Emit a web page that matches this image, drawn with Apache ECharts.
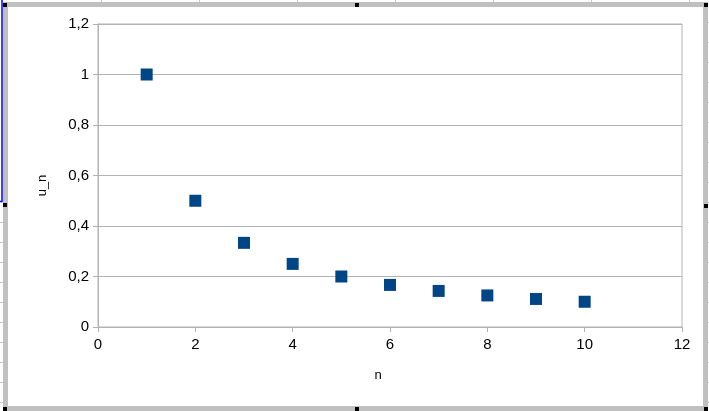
<!DOCTYPE html>
<html>
<head>
<meta charset="utf-8">
<script src="https://cdn.jsdelivr.net/npm/echarts@6/dist/echarts.min.js"></script>
<style>
html,body{margin:0;padding:0;background:#fff;}
#c{width:709px;height:411px;}
</style>
</head>
<body>
<div id="c"></div>
<script>
const nValues = [1, 2, 3, 4, 5, 6, 7, 8, 9, 10];
const unValues = [1, 0.5, 0.3333, 0.25, 0.2, 0.1667, 0.1429, 0.125, 0.1111, 0.1];
const xAxisTitle = 'n';
const yAxisTitle = 'u_n';

const chart = echarts.init(document.getElementById('c'), null, {renderer: 'canvas'});
const font = 'Liberation Sans, Arial, sans-serif';
const lineCol = '#b3b3b3';

const deco = [];
// spreadsheet column separators at top
[101, 199, 297, 395, 493, 591, 689].forEach(x => deco.push({type:'line', silent:true, shape:{x1:x+0.5,y1:0,x2:x+0.5,y2:2}, style:{stroke:'#c8c8c8', lineWidth:1}}));
// spreadsheet row ticks at sides
for (let y = 222; y < 411; y += 20) deco.push({type:'line', silent:true, shape:{x1:0,y1:y+0.5,x2:3,y2:y+0.5}, style:{stroke:'#c8c8c8', lineWidth:1}});
for (let y = 22; y < 411; y += 20) deco.push({type:'line', silent:true, shape:{x1:708,y1:y+0.5,x2:709,y2:y+0.5}, style:{stroke:'#c8c8c8', lineWidth:1}});
// blue cell selection on the left
deco.push({type:'polyline', silent:true, shape:{points:[[2,0],[2,201.5],[0,201.5]]}, style:{stroke:'#0000ff', lineWidth:1.5, fill:null}});
// gray frame
deco.push({type:'rect', silent:true, shape:{x:5.5, y:4.5, width:700, height:404}, style:{stroke:'#c0c0c0', lineWidth:5, fill:null}});
// handles
[[3,3],[355,3],[704,3],[3,203],[704,204],[3,407],[355,407],[704,407]].forEach(p => deco.push({type:'rect', silent:true, shape:{x:p[0], y:p[1], width:4, height:4}, style:{fill:'#000'}}));

chart.setOption({
  backgroundColor: '#ffffff',
  animation: false,
  graphic: deco,
  grid: {left: 98, right: 27, top: 24, bottom: 84, show: true, borderColor: lineCol, borderWidth: 1, backgroundColor: 'transparent'},
  xAxis: {
    type: 'value', min: 0, max: 12, interval: 2,
    name: xAxisTitle, nameLocation: 'middle', nameGap: 42,
    nameTextStyle: {fontFamily: font, fontSize: 13, color: '#000', padding: [0, 24, 0, 0]},
    axisLine: {show: true, lineStyle: {color: lineCol, width: 1}},
    axisTick: {show: true, inside: false, length: 5, lineStyle: {color: lineCol}},
    axisLabel: {fontFamily: font, fontSize: 15, color: '#000', margin: 10},
    splitLine: {show: false}
  },
  yAxis: {
    type: 'value', min: 0, max: 1.2, interval: 0.2,
    name: yAxisTitle, nameLocation: 'middle', nameGap: 49,
    nameTextStyle: {fontFamily: font, fontSize: 13, color: '#000', padding: [0, 20, 0, 0]},
    axisLine: {show: true, lineStyle: {color: lineCol, width: 1}},
    axisTick: {show: true, inside: false, length: 5, lineStyle: {color: lineCol}},
    axisLabel: {fontFamily: font, fontSize: 15, color: '#000', margin: 9,
      formatter: v => String(Math.round(v * 10) / 10).replace('.', ',')},
    splitLine: {show: true, lineStyle: {color: lineCol, width: 1}}
  },
  series: [{
    type: 'scatter',
    data: nValues.map((n, i) => [n, unValues[i]]),
    symbol: 'rect', symbolSize: 12,
    itemStyle: {color: '#004586', opacity: 1}
  }]
});
</script>
</body>
</html>
